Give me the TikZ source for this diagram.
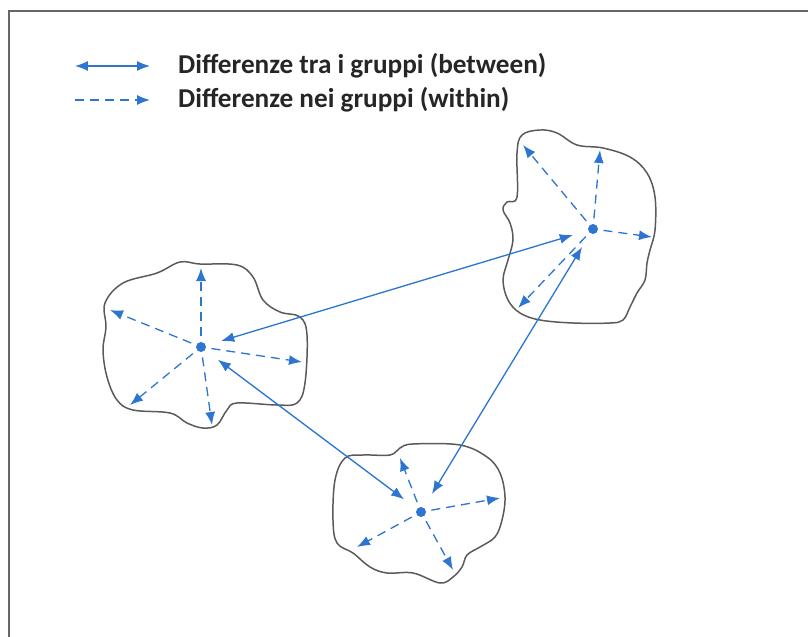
\documentclass[tikz,border=0pt]{standalone}
\usepackage{fontspec}
\setmainfont{Carlito}
\usepackage{tikz}
\usetikzlibrary{arrows.meta}
\usepackage{xcolor}
\definecolor{arrowblue}{RGB}{46,117,210}
\definecolor{blobgray}{RGB}{90,90,90}

\begin{document}
\begin{tikzpicture}[x=0.02cm,y=-0.02cm,
	between/.style={arrowblue, line width=0.75pt, {Latex[length=2.6mm,width=2mm]}-{Latex[length=2.6mm,width=2mm]}},
	within/.style={arrowblue, line width=0.75pt, dash pattern=on 1.8mm off 1.2mm, -{Latex[length=2.6mm,width=2mm]}},
	blob/.style={blobgray, line width=0.85pt}]
		\useasboundingbox (0,0) rectangle (808,636);
		\draw[line width=1.3pt, black!60] (9,640) -- (9,11) -- (812,11);
		% legend
		\coordinate (L1a) at (75,66);
		\coordinate (L1b) at (150,66);
		\coordinate (L2a) at (75,100);
		\coordinate (L2b) at (150,100);
		\draw[between] (L1a) -- (L1b);
		\draw[within] (L2a) -- (L2b);
		\node[anchor=west, font=\bfseries\fontsize{15.5}{18}\selectfont, text=black!85] (T1) at (172,66) {Differenze tra i gruppi (between)};
		\node[anchor=west, font=\bfseries\fontsize{15.5}{18}\selectfont, text=black!85] (T2) at (172,100) {Differenze nei gruppi (within)};
		% groups
		\draw[blob] plot[smooth cycle, tension=0.6] coordinates {(105,303) (123,283) (157,273) (180,262) (200,264) (237,265) (253,277) (263,300) (280,312) (300,317) (307,335) (305,383) (297,403) (277,405) (237,403) (227,410) (217,425) (203,428) (187,423) (170,413) (133,410) (117,400) (107,377) (103,350) (106,327)};
		\draw[blob] plot[smooth cycle, tension=0.6] coordinates {(522,135) (540,130) (557,133) (577,145) (603,148) (630,157) (647,173) (655,197) (655,230) (650,250) (647,263) (645,280) (637,293) (630,307) (623,320) (610,323) (573,323) (540,320) (520,313) (508,300) (503,280) (508,260) (513,240) (510,223) (503,210) (507,202) (517,197) (517,153)};
		\draw[blob] plot[smooth cycle, tension=0.6] coordinates {(345,458) (363,455) (390,455) (400,448) (413,444) (460,445) (487,457) (500,473) (505,497) (502,520) (495,537) (480,547) (467,555) (462,567) (453,577) (440,583) (413,573) (387,573) (370,567) (353,553) (337,543) (333,520) (335,480)};
		\coordinate (A) at (201,347);
		\coordinate (B) at (593,229);
		\coordinate (C) at (421,512);
		\fill[arrowblue] (A) circle (5);
		\fill[arrowblue] (B) circle (5);
		\fill[arrowblue] (C) circle (5);
		% between
		\draw[between, shorten <=12, shorten >=12] (A) -- (B);
		\draw[between, shorten <=12, shorten >=12] (A) -- (C);
		\draw[between, shorten <=12, shorten >=12] (B) -- (C);
		% within
		\foreach \x/\y in {201/268, 110/310, 302/362, 130/405, 212/425}
			\draw[within, shorten <=6] (A) -- (\x,\y);
		\foreach \x/\y in {523/145, 600/150, 652/237, 518/308}
			\draw[within, shorten <=6] (B) -- (\x,\y);
		\foreach \x/\y in {400/458, 500/498, 357/547, 453/570}
			\draw[within, shorten <=6] (C) -- (\x,\y);
	\end{tikzpicture}
\end{document}
